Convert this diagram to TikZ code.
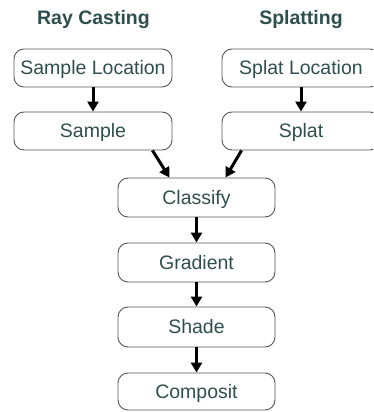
\documentclass[tikz,border=0pt]{standalone}
\usepackage{fontspec}
\setmainfont{Liberation Sans}
\usetikzlibrary{arrows.meta,calc}
\definecolor{labelink}{RGB}{47,79,79}
\definecolor{boxline}{RGB}{85,85,85}
\tikzset{
  stagebox/.style={draw=boxline, line width=0.9pt, rounded corners=10pt,
    minimum width=158pt, minimum height=38pt, inner sep=0pt,
    text height=13.8pt, text depth=0pt, text=labelink,
    font=\fontsize{19.5pt}{22pt}\selectfont},
  heading/.style={text=labelink, font=\bfseries\fontsize{19.5pt}{22pt}\selectfont,
    text height=13.8pt, text depth=0pt, inner sep=0pt},
  flow/.style={line width=3pt, -{Triangle[width=11pt,length=10pt]}, black},
}
\begin{document}
\begin{tikzpicture}[x=1pt,y=-1pt]
  \useasboundingbox (0,0) rectangle (373,412);
  \clip (0,0) rectangle (373,412);
  \fill[white] (0,0) rectangle (373,412);

  % column headings
  \node[heading] (hray) at (93.5,17.5) {Ray Casting};
  \node[heading] (hsplat) at (301,17.5) {Splatting};

  % stages
  \node[stagebox] (sloc)  at (93,68)   {Sample Location};
  \node[stagebox] (samp)  at (93,131)  {Sample};
  \node[stagebox] (ploc)  at (301,68)  {Splat Location};
  \node[stagebox] (splat) at (301,131) {Splat};
  \node[stagebox, minimum width=157pt, minimum height=39pt] (clas) at (196.5,197.5) {Classify};
  \node[stagebox, minimum width=157pt, minimum height=39pt] (grad) at (196.5,262.5) {Gradient};
  \node[stagebox, minimum width=157pt, minimum height=40pt] (shad) at (196.5,327)   {Shade};
  \node[stagebox, minimum width=157pt, minimum height=37pt] (comp) at (196.5,391.5) {Composit};

  % connectors
  \draw[flow] (sloc.south) -- (samp.north);
  \draw[flow] (ploc.south) -- (splat.north);
  \draw[flow] ([xshift=-20pt]samp.south east) -- ([xshift=52pt]clas.north west);
  \draw[flow] ([xshift=20pt]splat.south west) -- ([xshift=-50pt]clas.north east);
  \draw[flow] (clas.south) -- (grad.north);
  \draw[flow] (grad.south) -- (shad.north);
  \draw[flow] (shad.south) -- (comp.north);
\end{tikzpicture}
\end{document}
